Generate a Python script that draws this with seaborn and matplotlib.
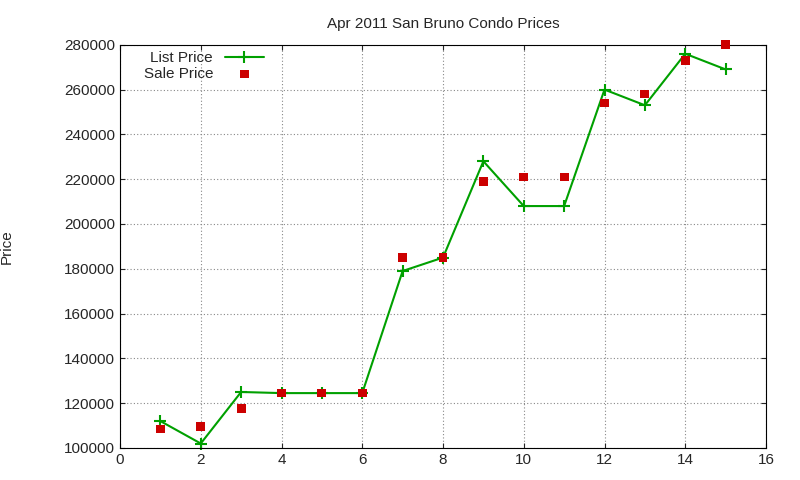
import matplotlib
matplotlib.use("Agg")
import matplotlib.pyplot as plt
import seaborn as sns
import pandas as pd

sns.set_style("ticks")
plt.rcParams['font.family'] = ['Liberation Sans', 'DejaVu Sans']

x = list(range(1, 16))
list_price = [112000, 102000, 125000, 124500, 124500, 124500, 179000, 185000,
              228000, 208000, 208000, 260000, 253000, 276000, 269000]
sale_price = [108500, 109500, 117500, 124500, 124500, 124500, 185000, 185000,
              219000, 221000, 221000, 254000, 258000, 273000, 280000]
df = pd.DataFrame({"x": x, "list": list_price, "sale": sale_price})

fig = plt.figure(figsize=(8, 4.8), dpi=100)
ax = fig.add_axes([0.15, 0.0667, 0.8075, 0.84])

sns.lineplot(data=df, x="x", y="list", ax=ax, color="#00a000", lw=1.5,
             marker="+", markersize=8, mew=1.5, markeredgecolor="#00a000",
             label="List Price", clip_on=False)
sns.scatterplot(data=df, x="x", y="sale", ax=ax, color="#cc0000", marker="s",
                s=40, edgecolor="none", label="Sale Price", zorder=3, clip_on=False)

ax.set_xlim(0, 16)
ax.set_ylim(100000, 280000)
ax.set_xticks(range(0, 17, 2))
ax.set_yticks(range(100000, 280001, 20000))
ax.ticklabel_format(style="plain", axis="y")
ax.grid(True, linestyle=(0, (1, 2)), color="#888888", lw=0.8)
ax.tick_params(direction="in", labelsize=11, top=True, right=True)
for s in ax.spines.values():
    s.set_color("black")
ax.set_xlabel("")
ax.set_ylabel("Price", fontsize=11)
ax.yaxis.set_label_coords(-0.165, 0.5)
ax.set_title("Apr 2011 San Bruno Condo Prices", fontsize=11, pad=12)
ax.legend(loc="upper left", markerfirst=False, frameon=False, fontsize=11,
          bbox_to_anchor=(0.02, 1.01), handlelength=2.5, borderpad=0.2,
          labelspacing=0.1)
fig.savefig("out.png", dpi=100)
